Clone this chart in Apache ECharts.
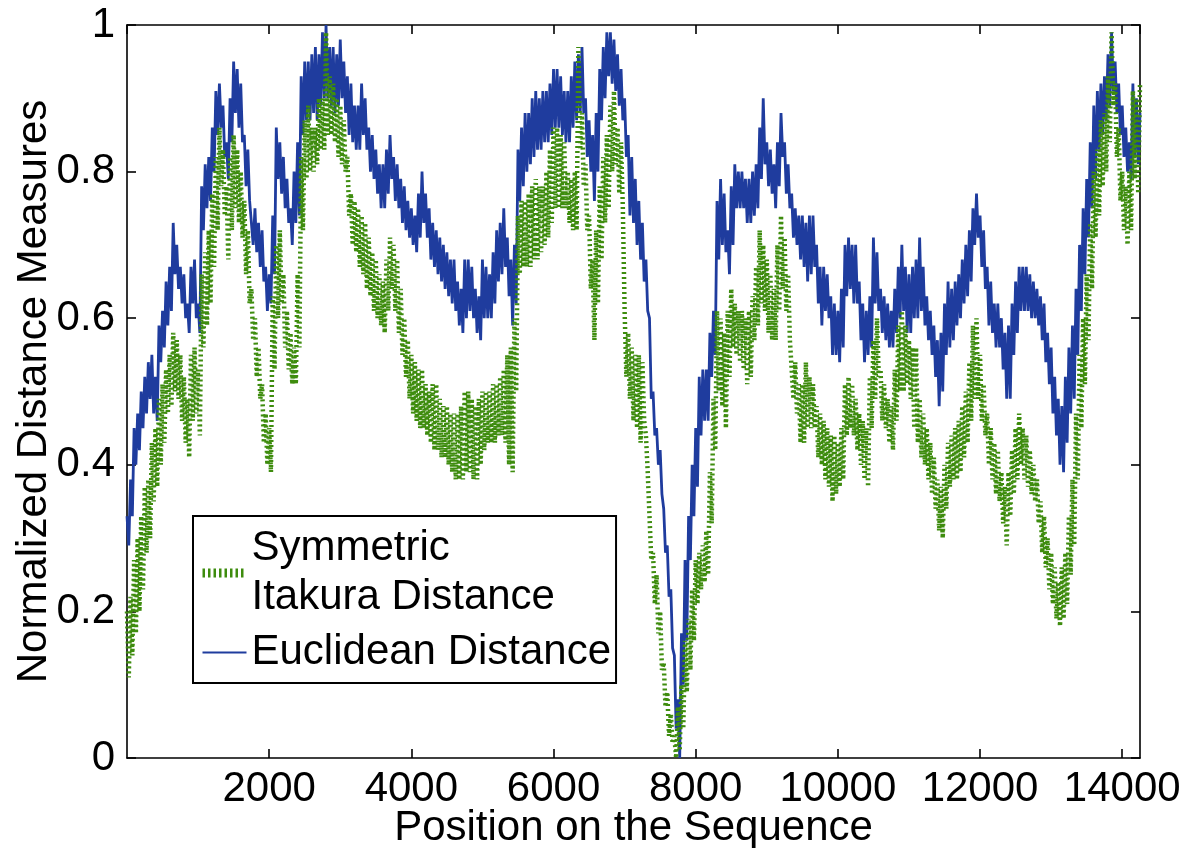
<!DOCTYPE html>
<html><head><meta charset="utf-8">
<script src="https://cdn.jsdelivr.net/npm/echarts@6/dist/echarts.min.js"></script>
<style>html,body{margin:0;padding:0;background:#fff}#c{width:1184px;height:848px}</style>
</head><body><div id="c"></div>
<script>
// Each curve is a very noisy trace; it is stored as the upper and lower edge of its
// noise band, read every 50 sequence positions (position 0, 50, 100, ... 14250).
const sampleStep = 50;
const seriesNames = ['Symmetric\nItakura Distance', 'Euclidean Distance'];
const xTickValues = [2000, 4000, 6000, 8000, 10000, 12000, 14000];
const yTickLabels = ['0', '0.2', '0.4', '0.6', '0.8', '1'];

const euclideanHigh = [
  0.33,0.38,0.45,0.47,0.50,0.52,0.54,0.55,0.52,0.59,0.61,0.65,0.67,0.73,0.70,0.67,0.66,0.62,0.67,0.68,
  0.62,0.78,0.81,0.82,0.86,0.91,0.92,0.89,0.84,0.90,0.95,0.94,0.92,0.85,0.83,0.76,0.75,0.73,0.72,0.67,
  0.66,0.74,0.86,0.84,0.82,0.79,0.75,0.80,0.84,0.93,0.95,0.95,0.96,0.97,0.96,0.99,1.00,0.97,0.97,0.96,
  0.98,0.95,0.93,0.92,0.89,0.89,0.92,0.90,0.86,0.85,0.83,0.81,0.81,0.83,0.85,0.82,0.81,0.79,0.78,0.76,
  0.75,0.74,0.77,0.80,0.77,0.75,0.73,0.72,0.71,0.70,0.69,0.68,0.68,0.65,0.64,0.68,0.68,0.67,0.64,0.63,
  0.68,0.67,0.66,0.69,0.72,0.73,0.75,0.71,0.68,0.70,0.83,0.86,0.88,0.88,0.90,0.91,0.90,0.91,0.91,0.92,
  0.94,0.94,0.93,0.91,0.91,0.93,0.95,0.96,0.97,0.90,0.87,0.85,0.88,0.94,0.97,0.99,0.99,0.98,0.96,0.94,
  0.90,0.85,0.82,0.79,0.76,0.73,0.68,0.60,0.50,0.45,0.42,0.34,0.29,0.23,0.14,0.08,0.17,0.27,0.33,0.40,
  0.45,0.52,0.53,0.53,0.58,0.61,0.76,0.79,0.77,0.72,0.78,0.81,0.80,0.80,0.79,0.79,0.80,0.81,0.86,0.90,
  0.84,0.83,0.81,0.84,0.88,0.84,0.81,0.77,0.75,0.74,0.74,0.73,0.74,0.74,0.70,0.67,0.67,0.66,0.63,0.62,
  0.61,0.64,0.70,0.71,0.70,0.70,0.65,0.62,0.61,0.63,0.71,0.69,0.64,0.63,0.62,0.61,0.64,0.67,0.70,0.67,
  0.66,0.67,0.68,0.71,0.67,0.63,0.61,0.59,0.57,0.58,0.62,0.65,0.64,0.65,0.66,0.68,0.70,0.72,0.75,0.77,
  0.74,0.72,0.67,0.65,0.62,0.62,0.60,0.58,0.59,0.62,0.65,0.67,0.67,0.67,0.66,0.65,0.64,0.63,0.62,0.58,
  0.56,0.52,0.49,0.48,0.52,0.56,0.59,0.64,0.70,0.75,0.79,0.84,0.89,0.91,0.92,0.93,0.96,0.99,0.95,0.92,
  0.89,0.86,0.84,0.92,0.90,0.88
];
const euclideanLow = [
  0.29,0.33,0.40,0.42,0.45,0.47,0.49,0.47,0.46,0.54,0.56,0.59,0.61,0.66,0.64,0.62,0.60,0.58,0.62,0.60,
  0.58,0.72,0.75,0.76,0.80,0.85,0.86,0.82,0.79,0.84,0.88,0.86,0.84,0.78,0.76,0.70,0.69,0.67,0.65,0.61,
  0.62,0.66,0.79,0.77,0.75,0.73,0.70,0.73,0.74,0.85,0.87,0.87,0.88,0.87,0.89,0.90,0.90,0.89,0.88,0.89,
  0.90,0.88,0.85,0.84,0.83,0.83,0.85,0.83,0.80,0.79,0.77,0.75,0.75,0.77,0.79,0.76,0.75,0.73,0.72,0.71,
  0.70,0.69,0.71,0.73,0.71,0.68,0.67,0.66,0.65,0.64,0.63,0.62,0.61,0.59,0.58,0.60,0.61,0.60,0.58,0.57,
  0.60,0.60,0.60,0.62,0.65,0.66,0.67,0.63,0.59,0.62,0.76,0.78,0.80,0.81,0.82,0.83,0.83,0.84,0.84,0.85,
  0.86,0.86,0.85,0.84,0.84,0.86,0.87,0.88,0.88,0.82,0.80,0.76,0.80,0.87,0.90,0.93,0.92,0.91,0.89,0.87,
  0.82,0.74,0.73,0.70,0.68,0.65,0.61,0.49,0.44,0.40,0.36,0.28,0.22,0.15,0.04,0.00,0.10,0.16,0.27,0.33,
  0.37,0.44,0.46,0.46,0.52,0.55,0.68,0.70,0.69,0.66,0.70,0.75,0.75,0.75,0.73,0.73,0.74,0.75,0.79,0.81,
  0.78,0.77,0.75,0.78,0.82,0.77,0.75,0.71,0.70,0.68,0.67,0.65,0.66,0.67,0.62,0.59,0.61,0.60,0.55,0.55,
  0.54,0.56,0.63,0.64,0.62,0.62,0.57,0.54,0.55,0.56,0.62,0.61,0.58,0.57,0.56,0.56,0.58,0.60,0.61,0.58,
  0.58,0.60,0.60,0.61,0.59,0.57,0.55,0.52,0.48,0.50,0.55,0.56,0.57,0.59,0.60,0.62,0.63,0.65,0.70,0.71,
  0.67,0.64,0.59,0.58,0.56,0.56,0.53,0.49,0.49,0.55,0.58,0.61,0.61,0.61,0.60,0.60,0.59,0.57,0.54,0.51,
  0.47,0.44,0.40,0.39,0.43,0.47,0.49,0.55,0.61,0.66,0.71,0.75,0.79,0.83,0.85,0.87,0.89,0.91,0.88,0.85,
  0.82,0.80,0.79,0.82,0.81,0.80
];

const itakuraHigh = [
  0.20,0.22,0.27,0.30,0.33,0.37,0.38,0.43,0.45,0.49,0.51,0.53,0.55,0.58,0.57,0.55,0.52,0.49,0.55,0.56,
  0.53,0.66,0.69,0.72,0.77,0.82,0.86,0.83,0.78,0.82,0.85,0.83,0.80,0.76,0.72,0.64,0.60,0.56,0.51,0.47,
  0.45,0.63,0.70,0.72,0.66,0.61,0.58,0.56,0.66,0.82,0.87,0.89,0.86,0.86,0.90,0.90,0.99,0.93,0.92,0.90,
  0.89,0.87,0.82,0.77,0.76,0.75,0.74,0.73,0.71,0.69,0.68,0.66,0.65,0.68,0.71,0.70,0.68,0.64,0.60,0.57,
  0.55,0.54,0.53,0.53,0.51,0.50,0.51,0.51,0.49,0.48,0.48,0.47,0.47,0.47,0.48,0.50,0.50,0.49,0.48,0.49,
  0.50,0.50,0.50,0.51,0.51,0.52,0.53,0.55,0.56,0.60,0.74,0.76,0.76,0.77,0.78,0.79,0.78,0.78,0.80,0.83,
  0.86,0.86,0.85,0.84,0.80,0.79,0.80,0.97,0.88,0.81,0.74,0.68,0.72,0.78,0.82,0.85,0.89,0.91,0.86,0.84,
  0.61,0.58,0.56,0.55,0.55,0.54,0.44,0.39,0.28,0.25,0.20,0.13,0.09,0.06,0.03,0.07,0.10,0.16,0.19,0.23,
  0.27,0.28,0.29,0.31,0.39,0.49,0.61,0.60,0.58,0.61,0.64,0.62,0.61,0.61,0.60,0.61,0.63,0.67,0.72,0.70,
  0.68,0.66,0.64,0.70,0.74,0.71,0.66,0.57,0.54,0.51,0.51,0.54,0.52,0.51,0.48,0.47,0.46,0.45,0.44,0.44,
  0.43,0.45,0.51,0.52,0.51,0.49,0.47,0.46,0.45,0.52,0.57,0.60,0.53,0.51,0.49,0.48,0.53,0.59,0.61,0.59,
  0.57,0.56,0.56,0.49,0.47,0.45,0.43,0.41,0.38,0.37,0.40,0.43,0.44,0.45,0.46,0.48,0.50,0.54,0.59,0.60,
  0.55,0.51,0.47,0.45,0.43,0.42,0.39,0.37,0.39,0.42,0.45,0.47,0.45,0.44,0.42,0.40,0.38,0.35,0.33,0.30,
  0.28,0.26,0.24,0.26,0.28,0.33,0.38,0.47,0.55,0.60,0.66,0.73,0.80,0.83,0.87,0.88,0.93,0.99,0.92,0.86,
  0.80,0.78,0.80,0.91,0.90,0.92
];
const itakuraLow = [
  0.11,0.14,0.17,0.20,0.23,0.28,0.30,0.35,0.37,0.40,0.43,0.47,0.48,0.50,0.49,0.46,0.43,0.41,0.46,0.47,
  0.44,0.56,0.59,0.62,0.67,0.72,0.78,0.74,0.68,0.72,0.75,0.73,0.71,0.66,0.62,0.57,0.52,0.49,0.43,0.40,
  0.39,0.53,0.60,0.62,0.56,0.53,0.51,0.51,0.56,0.72,0.79,0.80,0.80,0.81,0.83,0.83,0.85,0.85,0.84,0.82,
  0.81,0.80,0.74,0.70,0.69,0.67,0.66,0.64,0.63,0.61,0.60,0.59,0.58,0.61,0.64,0.61,0.58,0.55,0.52,0.49,
  0.47,0.46,0.45,0.45,0.44,0.43,0.42,0.42,0.41,0.41,0.40,0.39,0.38,0.38,0.38,0.39,0.39,0.38,0.38,0.40,
  0.42,0.43,0.43,0.43,0.44,0.44,0.43,0.40,0.39,0.50,0.66,0.67,0.67,0.67,0.68,0.68,0.69,0.70,0.71,0.73,
  0.75,0.75,0.75,0.75,0.73,0.72,0.72,0.83,0.78,0.72,0.64,0.57,0.62,0.68,0.73,0.75,0.80,0.81,0.77,0.75,
  0.52,0.49,0.46,0.45,0.43,0.46,0.39,0.27,0.21,0.17,0.12,0.07,0.03,0.02,0.00,0.01,0.04,0.09,0.12,0.16,
  0.21,0.23,0.24,0.25,0.32,0.42,0.50,0.48,0.45,0.52,0.56,0.55,0.54,0.53,0.51,0.52,0.57,0.59,0.62,0.61,
  0.58,0.57,0.57,0.61,0.64,0.61,0.57,0.49,0.47,0.43,0.43,0.45,0.45,0.45,0.41,0.40,0.38,0.37,0.35,0.36,
  0.37,0.38,0.44,0.45,0.44,0.42,0.40,0.38,0.37,0.45,0.49,0.52,0.46,0.45,0.43,0.42,0.46,0.50,0.50,0.51,
  0.49,0.45,0.43,0.41,0.40,0.38,0.36,0.34,0.31,0.30,0.34,0.37,0.38,0.38,0.39,0.41,0.43,0.46,0.49,0.49,
  0.46,0.44,0.40,0.38,0.36,0.35,0.32,0.29,0.33,0.36,0.38,0.40,0.38,0.37,0.36,0.35,0.32,0.28,0.26,0.23,
  0.21,0.19,0.18,0.19,0.21,0.25,0.29,0.38,0.45,0.51,0.57,0.64,0.71,0.74,0.78,0.80,0.84,0.89,0.82,0.76,
  0.72,0.70,0.72,0.79,0.77,0.75
];

// the trace swings from the upper edge at each sampled position to the lower edge halfway to the next
function bandTrace(high, low) {
  const pts = [];
  for (let i = 0; i < high.length; i++) {
    pts.push([i * sampleStep, high[i]]);
    if (i < high.length - 1) pts.push([i * sampleStep + sampleStep / 2, low[i]]);
  }
  return pts;
}

const FONT = '"Liberation Sans", Arial, Helvetica, sans-serif';
const FS = 42;
const chart = echarts.init(document.getElementById('c'));
const xMax = (euclideanHigh.length - 1) * sampleStep;

const axisLineStyle = { color: '#000', width: 1.6 };
const baseX = {
  type: 'value', min: 0, max: xMax, interval: 2000,
  axisLine: { show: true, onZero: false, lineStyle: axisLineStyle },
  axisTick: { show: true, inside: true, length: 9, lineStyle: axisLineStyle },
  splitLine: { show: false }
};
const baseY = {
  type: 'value', min: 0, max: 1, interval: 0.2,
  axisLine: { show: true, onZero: false, lineStyle: axisLineStyle },
  axisTick: { show: true, inside: true, length: 9, lineStyle: axisLineStyle },
  splitLine: { show: false }
};

const BLUE = '#1f3c9e';
const GREEN = '#3e8c0e';

chart.setOption({
  animation: false,
  backgroundColor: '#fff',
  textStyle: { fontFamily: FONT },
  grid: { left: 127, top: 25, right: 44, bottom: 90, containLabel: false, outerBoundsMode: 'none' },
  legend: {
    left: 193, top: 516, orient: 'vertical',
    data: [
      { name: seriesNames[0], itemStyle: { opacity: 0 },
        lineStyle: { color: GREEN, width: 9, type: [2.5, 3], cap: 'butt' } },
      { name: seriesNames[1], itemStyle: { opacity: 0 },
        lineStyle: { color: BLUE, width: 2 } }
    ],
    backgroundColor: '#fff', borderColor: '#000', borderWidth: 2, borderRadius: 0,
    padding: [8, 5, 6, 5],
    itemWidth: 44, itemHeight: 10, itemGap: 6,
    textStyle: { fontFamily: FONT, fontSize: FS, color: '#000', lineHeight: 49 }
  },
  xAxis: [
    Object.assign({}, baseX, {
      position: 'bottom',
      axisLabel: {
        color: '#000', fontSize: FS, fontFamily: FONT, margin: 10,
        showMinLabel: false, showMaxLabel: false,
        formatter: v => (xTickValues.indexOf(v) >= 0 ? String(v) : '')
      },
      name: 'Position on the Sequence', nameLocation: 'middle', nameGap: 49,
      nameMoveOverlap: false,
      nameTextStyle: { color: '#000', fontSize: FS, fontFamily: FONT }
    }),
    Object.assign({}, baseX, { position: 'top', axisLabel: { show: false } })
  ],
  yAxis: [
    Object.assign({}, baseY, {
      position: 'left',
      axisLabel: {
        color: '#000', fontSize: FS, fontFamily: FONT, margin: 12,
        formatter: (v) => yTickLabels[Math.round(v / 0.2)]
      },
      name: 'Normalized Distance Measures', nameLocation: 'middle', nameGap: 72,
      nameMoveOverlap: false,
      nameTextStyle: { color: '#000', fontSize: FS, fontFamily: FONT }
    }),
    Object.assign({}, baseY, { position: 'right', axisLabel: { show: false } })
  ],
  series: [
    {
      name: seriesNames[1], type: 'line', data: bandTrace(euclideanHigh, euclideanLow),
      symbol: 'none', showSymbol: false, smooth: false,
      lineStyle: { color: BLUE, width: 2.8 },
      itemStyle: { color: BLUE }
    },
    {
      name: seriesNames[0], type: 'line', data: bandTrace(itakuraHigh, itakuraLow),
      symbol: 'none', showSymbol: false, smooth: false,
      lineStyle: { color: GREEN, width: 4.5, type: [2, 3], cap: 'butt' },
      itemStyle: { color: GREEN }
    }
  ]
});
</script>
</body></html>
